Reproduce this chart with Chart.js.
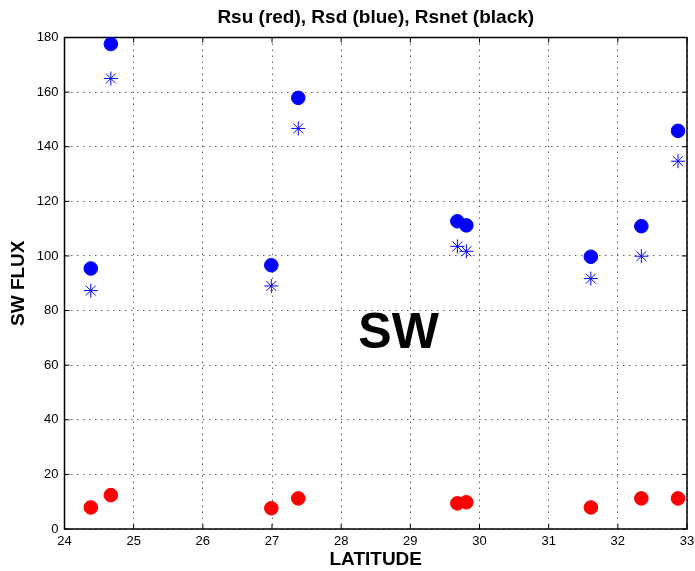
<!DOCTYPE html>
<html>
<head>
<meta charset="utf-8">
<title>SW flux by latitude</title>
<script src="https://cdn.jsdelivr.net/npm/chart.js@4.4.0/dist/chart.umd.min.js"></script>
<style>
    body { margin: 0; background: #fff; }
    canvas { display: block; }
</style>
</head>
<body>
<canvas id="swChart" width="695" height="571"></canvas>
<script>
// station latitudes and shortwave fluxes
const latitude = [24.38, 24.67, 26.99, 27.38, 29.68, 29.81, 31.61, 32.34, 32.87];
const rsd = [95.4, 177.6, 96.6, 157.9, 112.7, 111.2, 99.7, 110.9, 145.8];
const rsnet = [87.3, 165.0, 89.0, 146.7, 103.5, 101.7, 91.7, 99.9, 134.7];
const rsu = [7.9, 12.4, 7.6, 11.2, 9.4, 9.8, 7.9, 11.2, 11.2];

const xRange = [24, 33];
const yRange = [0, 180];
const plotTitle = 'Rsu (red), Rsd (blue), Rsnet (black)';
const panelLabel = { text: 'SW', x: 28.83, y: 71.4 };

const FONT = '"Liberation Sans", Arial, Helvetica, sans-serif';

function toPoints(ys) {
    return latitude.map((lat, i) => ({ x: lat, y: ys[i] }));
}

// box round the plot, inward ticks on all four sides, title over the
// plot area and the big label
const framePlugin = {
    id: 'frame',
    beforeDatasetsDraw(chart) {
        const { ctx, chartArea: a, scales } = chart;
        const len = 5;
        ctx.save();
        ctx.strokeStyle = '#000';
        ctx.lineWidth = 1;
        ctx.beginPath();
        scales.x.ticks.forEach(t => {
            const px = scales.x.getPixelForValue(t.value);
            ctx.moveTo(px, a.bottom); ctx.lineTo(px, a.bottom - len);
            ctx.moveTo(px, a.top); ctx.lineTo(px, a.top + len);
        });
        scales.y.ticks.forEach(t => {
            const py = scales.y.getPixelForValue(t.value);
            ctx.moveTo(a.left, py); ctx.lineTo(a.left + len, py);
            ctx.moveTo(a.right, py); ctx.lineTo(a.right - len, py);
        });
        ctx.stroke();

        ctx.lineWidth = 1.5;
        ctx.strokeRect(a.left, a.top, a.right - a.left, a.bottom - a.top);

        ctx.fillStyle = '#000';
        ctx.textAlign = 'center';
        ctx.textBaseline = 'middle';
        ctx.font = 'bold 19px ' + FONT;
        ctx.fillText(plotTitle, (a.left + a.right) / 2, 18);

        ctx.font = 'bold 50px ' + FONT;
        ctx.fillText(panelLabel.text,
            scales.x.getPixelForValue(panelLabel.x),
            scales.y.getPixelForValue(panelLabel.y));
        ctx.restore();
    }
};

const gridOpts = {
    color: 'rgba(0,0,0,0.6)',
    lineWidth: 1,
    drawTicks: false
};

const ctx = document.getElementById('swChart');

const myChart = new Chart(ctx, {
    type: 'scatter',
    data: {
        datasets: [{
            label: 'Rsu',
            data: toPoints(rsu),
            pointStyle: 'circle',
            pointRadius: 6.8,
            borderWidth: 1,
            backgroundColor: '#ff0000',
            borderColor: '#ff0000'
        }, {
            label: 'Rsd',
            data: toPoints(rsd),
            pointStyle: 'circle',
            pointRadius: 6.8,
            borderWidth: 1,
            backgroundColor: '#0000ff',
            borderColor: '#0000ff'
        }, {
            label: 'Rsnet',
            data: toPoints(rsnet),
            pointStyle: 'star',
            pointRadius: 7,
            borderWidth: 1,
            backgroundColor: '#0000ff',
            borderColor: '#0000ff'
        }]
    },
    options: {
        responsive: false,
        animation: false,
        layout: { padding: { left: 0, right: 0, top: 37.5, bottom: 0 } },
        plugins: {
            legend: { display: false },
            tooltip: { enabled: false },
            title: { display: false }
        },
        scales: {
            x: {
                type: 'linear',
                min: xRange[0],
                max: xRange[1],
                afterFit: s => {
                    s.height = 42;
                    s.paddingLeft = 0;
                    s.paddingRight = 7;
                },
                ticks: {
                    stepSize: 1,
                    color: '#000',
                    padding: 5,
                    font: { family: FONT, size: 13 }
                },
                grid: gridOpts,
                border: { display: false, dash: [1.5, 4.5] },
                title: {
                    display: true,
                    text: 'LATITUDE',
                    color: '#000',
                    font: { family: FONT, size: 19, weight: 'bold' },
                    padding: { top: 0, bottom: 0 }
                }
            },
            y: {
                min: yRange[0],
                max: yRange[1],
                afterFit: s => { s.width = 64.5; },
                ticks: {
                    stepSize: 20,
                    color: '#000',
                    padding: 6,
                    font: { family: FONT, size: 13 }
                },
                grid: gridOpts,
                border: { display: false, dash: [1.5, 4.5] },
                title: {
                    display: true,
                    text: 'SW FLUX',
                    color: '#000',
                    font: { family: FONT, size: 19, weight: 'bold' },
                    padding: { top: 7, bottom: 0 }
                }
            }
        }
    },
    plugins: [framePlugin]
});
</script>
</body>
</html>
